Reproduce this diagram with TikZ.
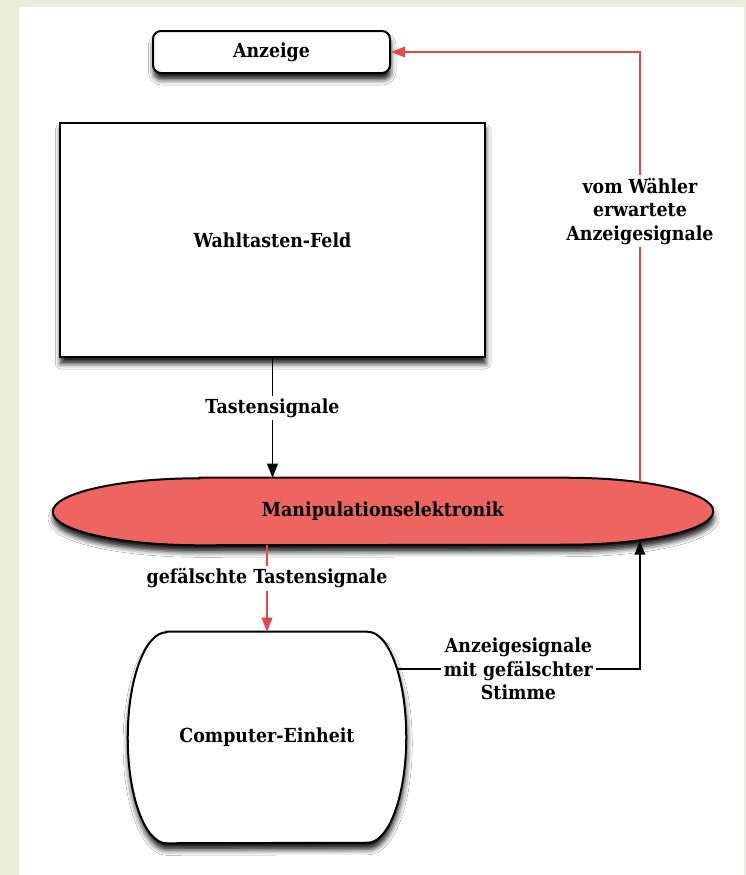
\documentclass[tikz,border=0pt]{standalone}
\usepackage{fontspec}
\setmainfont{DejaVu Serif Condensed}
\usepackage{xcolor}
\usepackage{tikz}
\usetikzlibrary{positioning}
\usetikzlibrary{arrows.meta,shapes}
\usetikzlibrary{calc}
\usetikzlibrary{shadows.blur}
\usetikzlibrary{backgrounds}
\definecolor{paper}{RGB}{234,237,216}
\definecolor{manired}{RGB}{238,100,96}
\definecolor{wirered}{RGB}{230,72,72}

\begin{document}
\begin{tikzpicture}[x=0.75pt,y=-0.75pt,
    every node/.style={font=\fontsize{14.5}{17.5}\selectfont\bfseries,align=center},
    box/.style={draw,line width=1.5pt,fill=white,inner sep=2pt,
        blur shadow={shadow xshift=0.5pt,shadow yshift=-5pt,shadow blur radius=4pt,shadow opacity=90}},
    hidden/.style={inner sep=0pt},
    outline/.style={line width=1.5pt,
        blur shadow={shadow xshift=0.5pt,shadow yshift=-5pt,shadow blur radius=4pt,shadow opacity=90}},
    wire/.style={line width=1.1pt,-{Triangle[length=10.5pt,width=8pt]}},
    redwire/.style={wire,draw=wirered,line width=1pt},
    tag/.style={fill=white,inner sep=2pt}]
    \useasboundingbox (0,0) rectangle (746,875);
    \node[box,rounded corners=6pt,minimum width=177.75pt,minimum height=31.5pt] (anz) at (271.5,52) {Anzeige};
    \node[box,minimum width=318.75pt,minimum height=175.5pt] (wahl) at (272.5,240) {Wahltasten-Feld};
    \node[hidden,minimum width=495pt,minimum height=50.25pt] (mani) at (383,511.5) {Manipulationselektronik};
    \node[hidden,minimum width=208.5pt,minimum height=158.25pt] (comp) at (267,737.5) {Computer-Einheit};
    \begin{scope}[on background layer]
        \fill[paper] (0,0) rectangle (746,875);
        \fill[white] (19,7) rectangle (744,875);
        % lens and barrel outlines round the two hidden nodes
        \draw[outline,fill=manired] ([xshift=110pt]mani.north west) -- ([xshift=-110pt]mani.north east)
            arc[start angle=90,end angle=-90,x radius=110pt,y radius=25.125pt]
            -- ([xshift=110pt]mani.south west)
            arc[start angle=270,end angle=90,x radius=110pt,y radius=25.125pt] -- cycle;
        \draw[outline,fill=white] ([xshift=29pt]comp.north west) -- ([xshift=-29pt]comp.north east)
            arc[start angle=90,end angle=-90,x radius=29pt,y radius=79.125pt]
            -- ([xshift=29pt]comp.south west)
            arc[start angle=270,end angle=90,x radius=29pt,y radius=79.125pt] -- cycle;
    \end{scope}
    \coordinate (tap) at ([xshift=-55pt,yshift=-3.4pt]mani.north east);
    \coordinate (bot) at ([xshift=-55pt,yshift=3.4pt]mani.south east);
    \coordinate (cport) at ([xshift=-7pt,yshift=51.4pt]comp.east);
    \draw[wire] (wahl.south) -- node[tag,pos=0.42] {Tastensignale} (wahl.south |- mani.north);
    \draw[redwire] (comp.north |- mani.south) -- node[tag,pos=0.38] {gefälschte Tastensignale} (comp.north);
    \draw[redwire] (tap) |- node[tag,pos=0.315] {vom Wähler\\erwartete\\Anzeigesignale} (anz.east);
    \draw[wire] (cport) -| node[tag,pos=0.25] {Anzeigesignale\\mit gefälschter\\Stimme} (bot);
\end{tikzpicture}
\end{document}
